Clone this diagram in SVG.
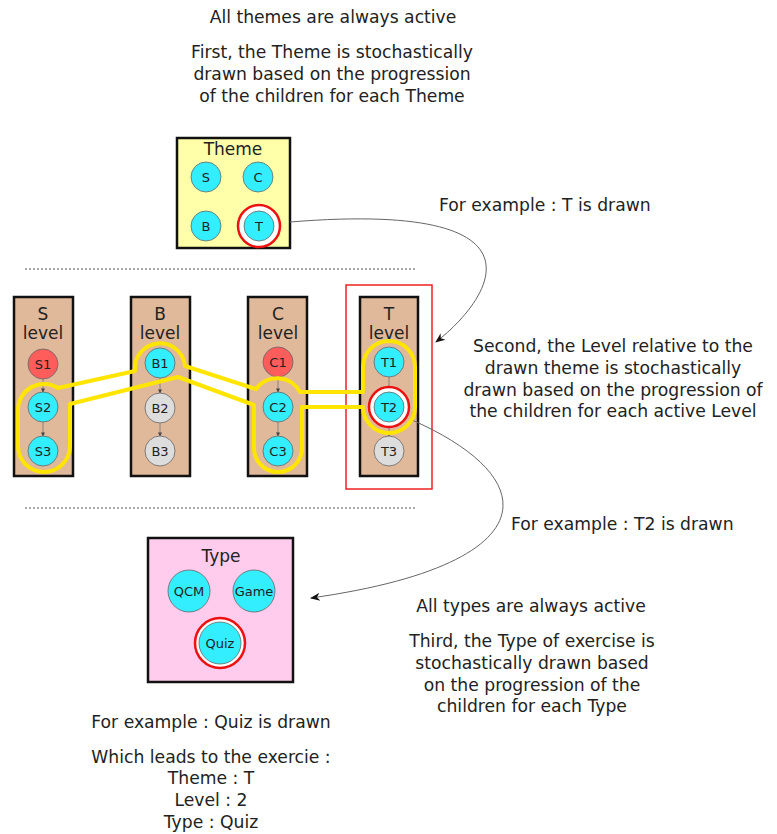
<svg xmlns="http://www.w3.org/2000/svg" width="777" height="834" viewBox="0 0 777 834">
<defs>
<style>
text{font-family:"DejaVu Sans","Liberation Sans",sans-serif;fill:#222;}
.t{font-size:17.2px;text-anchor:middle;}
.ts{font-size:17.2px;}
.lb{font-size:17px;text-anchor:middle;}
.n{font-size:13px;text-anchor:middle;}
.box{stroke:#111;stroke-width:2.5;}
.cy{fill:#33eeff;stroke:#666;stroke-width:0.8;}
.rd{fill:#ff5c5c;stroke:#666;stroke-width:0.8;}
.gy{fill:#dddddd;stroke:#666;stroke-width:0.8;}
.ring{fill:#fff;stroke:#ee1111;stroke-width:2.5;}
.dot{stroke:#555;stroke-width:1.2;stroke-dasharray:2 2;}
.ed{stroke:#777;stroke-width:0.8;fill:none;marker-end:url(#sm);}
.cv{stroke:#666;stroke-width:1;fill:none;marker-end:url(#ah);}
</style>
<marker id="ah" viewBox="0 0 10 10" refX="9" refY="5" markerWidth="10" markerHeight="10" markerUnits="userSpaceOnUse" orient="auto">
<path d="M0,1 L10,5 L0,9 L3,5 Z" fill="#111"/>
</marker>
<marker id="sm" viewBox="0 0 10 10" refX="9" refY="5" markerWidth="4" markerHeight="4" markerUnits="userSpaceOnUse" orient="auto">
<path d="M0,0 L10,5 L0,10 Z" fill="#444"/>
</marker>
</defs>

<g id="texts">
<text class="t" x="333" y="23">All themes are always active</text>
<text class="t" x="332" y="58">First, the Theme is stochastically</text>
<text class="t" x="332" y="80">drawn based on the progression</text>
<text class="t" x="332" y="102">of the children for each Theme</text>
<text class="ts" x="439" y="211">For example : T is drawn</text>
<text class="t" x="613" y="352">Second, the Level relative to the</text>
<text class="t" x="613" y="374">drawn theme is stochastically</text>
<text class="t" x="613" y="396">drawn based on the progression of</text>
<text class="t" x="613" y="417">the children for each active Level</text>
<text class="ts" x="511" y="530">For example : T2 is drawn</text>
<text class="t" x="531" y="612">All types are always active</text>
<text class="t" x="532" y="647">Third, the Type of exercise is</text>
<text class="t" x="532" y="669">stochastically drawn based</text>
<text class="t" x="532" y="691">on the progression of the</text>
<text class="t" x="532" y="712">children for each Type</text>
<text class="t" x="211" y="728">For example : Quiz is drawn</text>
<text class="t" x="211" y="763">Which leads to the exercie :</text>
<text class="t" x="211" y="784">Theme : T</text>
<text class="t" x="211" y="806">Level : 2</text>
<text class="t" x="211" y="828">Type : Quiz</text>
</g>

<g id="separators">
<line class="dot" x1="25" y1="269" x2="416" y2="269"/>
<line class="dot" x1="25" y1="508" x2="416" y2="508"/>
</g>

<g id="theme">
<rect class="box" x="177" y="138" width="113" height="110" fill="#ffffaa"/>
<text class="lb" x="233" y="155">Theme</text>
<circle class="cy" cx="206" cy="177" r="15"/><text class="n" x="206" y="182">S</text>
<circle class="cy" cx="258" cy="177" r="15"/><text class="n" x="258" y="182">C</text>
<circle class="cy" cx="206" cy="226" r="15"/><text class="n" x="206" y="231">B</text>
<circle class="ring" cx="259" cy="226" r="21"/>
<circle class="cy" cx="259" cy="226" r="15"/><text class="n" x="259" y="231">T</text>
</g>

<g id="t-select">
<rect x="346" y="285" width="86" height="204" fill="none" stroke="#ee2222" stroke-width="1.5"/>
</g>

<g id="level-S">
<rect class="box" x="14" y="297" width="59" height="179" fill="#e0b89a"/>
<text class="lb" x="43" y="320">S</text>
<text class="lb" x="43" y="339">level</text>
<circle class="rd" cx="43" cy="364" r="15"/><text class="n" x="43" y="369">S1</text>
<circle class="cy" cx="43" cy="407" r="15"/><text class="n" x="43" y="412">S2</text>
<circle class="cy" cx="43" cy="451" r="15"/><text class="n" x="43" y="456">S3</text>
</g>
<g id="level-B">
<rect class="box" x="131" y="297" width="59" height="179" fill="#e0b89a"/>
<text class="lb" x="160" y="320">B</text>
<text class="lb" x="160" y="339">level</text>
<circle class="cy" cx="160" cy="363" r="15"/><text class="n" x="160" y="368">B1</text>
<circle class="gy" cx="160" cy="408" r="15"/><text class="n" x="160" y="413">B2</text>
<circle class="gy" cx="160" cy="451" r="15"/><text class="n" x="160" y="456">B3</text>
</g>
<g id="level-C">
<rect class="box" x="248" y="297" width="59" height="179" fill="#e0b89a"/>
<text class="lb" x="278" y="320">C</text>
<text class="lb" x="278" y="339">level</text>
<circle class="rd" cx="278" cy="362" r="15"/><text class="n" x="278" y="367">C1</text>
<circle class="cy" cx="278" cy="407" r="15"/><text class="n" x="278" y="412">C2</text>
<circle class="cy" cx="278" cy="451" r="15"/><text class="n" x="278" y="456">C3</text>
</g>
<g id="level-T">
<rect class="box" x="360" y="297" width="58" height="179" fill="#e0b89a"/>
<text class="lb" x="389" y="320">T</text>
<text class="lb" x="389" y="339">level</text>
<circle class="cy" cx="389" cy="362" r="15"/><text class="n" x="389" y="367">T1</text>
<circle class="gy" cx="389" cy="451" r="15"/><text class="n" x="389" y="456">T3</text>
</g>

<g id="connectors">
<line class="ed" x1="43" y1="379" x2="43" y2="392"/>
<line class="ed" x1="43" y1="422" x2="43" y2="436"/>
<line class="ed" x1="160" y1="378" x2="160" y2="393"/>
<line class="ed" x1="160" y1="423" x2="160" y2="436"/>
<line class="ed" x1="278" y1="377" x2="278" y2="392"/>
<line class="ed" x1="278" y1="422" x2="278" y2="436"/>
<line class="ed" x1="389" y1="377" x2="389" y2="392"/>
<line class="ed" x1="389" y1="422" x2="389" y2="436"/>
<path class="cv" d="M290,222 C560,200 490,300 436,342"/>
<path class="cv" d="M412,420 C548,480 545,565 311,598"/>
</g>

<g id="highlight">
<path d="M58,388 L135,371 A25 25 0 1 1 185,366 L256,389 A26 26 0 0 1 300,392 L363,392 L363,367 A26 26 0 0 1 415,367 L415,407 A26 26 0 0 1 363,407 L302,407 L302,448 A24 24 0 0 1 254,448 L254,405 L178,377 L70,404 L70,446 A26 26 0 0 1 18,446 L18,410 A26 26 0 0 1 58,388 Z" fill="none" stroke="#ffe500" stroke-width="4" stroke-linejoin="round"/>
</g>

<g id="node-T2">
<circle class="ring" cx="389" cy="407" r="20"/>
<circle class="cy" cx="389" cy="407" r="15"/><text class="n" x="389" y="412">T2</text>
</g>

<g id="type">
<rect class="box" x="148" y="538" width="145" height="144" fill="#ffccee"/>
<text class="lb" x="221" y="562">Type</text>
<circle class="cy" cx="189" cy="591" r="21"/><text class="n" x="189" y="596">QCM</text>
<circle class="cy" cx="254" cy="591" r="21"/><text class="n" x="254" y="596">Game</text>
<circle class="ring" cx="220" cy="643" r="25"/>
<circle class="cy" cx="220" cy="643" r="21"/><text class="n" x="220" y="648">Quiz</text>
</g>
</svg>
